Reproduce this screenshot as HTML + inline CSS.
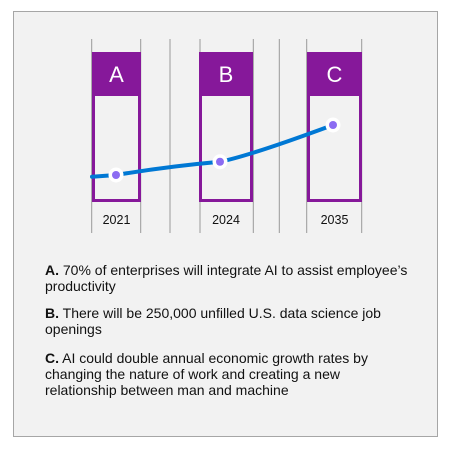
<!DOCTYPE html>
<html><head><meta charset="utf-8"><style>
body{margin:0;width:450px;height:450px;background:#fff;overflow:hidden;font-family:"Liberation Sans",sans-serif}
#panel{position:absolute;left:13px;top:11px;width:423px;height:424px;background:#f2f2f2;border:1px solid #a6a6a6}
.note{position:absolute;left:45px;width:390px;font-size:14px;line-height:16px;color:#111;white-space:nowrap}
</style></head><body>
<div id="panel"></div>
<svg id="chart" width="450" height="450" style="position:absolute;left:0;top:0"></svg>
<div class="note" style="top:262px"><b>A.</b> 70% of enterprises will integrate AI to assist employee’s<br>productivity</div>
<div class="note" style="top:305px"><b>B.</b> There will be 250,000 unfilled U.S. data science job<br>openings</div>
<div class="note" style="top:350px"><b>C.</b> AI could double annual economic growth rates by<br>changing the nature of work and creating a new<br>relationship between man and machine</div>
<script>
const labels=['A','B','C'];
const years=['2021','2024','2035'];
const values=[1.0,1.9,4.4];
const svg=document.getElementById('chart');
const NS='http://www.w3.org/2000/svg';
function mk(t,a){const e=document.createElementNS(NS,t);for(const k in a)e.setAttribute(k,a[k]);svg.appendChild(e);return e;}
const boxX=[92,199,307],boxW=[49,54,55];
const xs=i=>boxX[i]+boxW[i]/2;
const y=v=>175+(v-1.0)*(125-175)/(4.4-1.0);
[91.7,140.7,170,200,253.3,279.3,306.7,361.7].forEach(x=>{
 const l=mk('line',{x1:x,x2:x,y1:39,y2:233,stroke:'#999','stroke-width':1});
 
 
});
labels.forEach((lb,i)=>{
 const r=mk('rect',{x:boxX[i]+1.5,y:53.5,width:boxW[i]-3,height:147,fill:'#f2f2f2',stroke:'#86189a','stroke-width':3});
 
 
 const h=mk('rect',{x:boxX[i],y:52,width:boxW[i],height:44,fill:'#86189a'});
 
 
 const t=mk('text',{x:xs(i),y:82,'text-anchor':'middle',fill:'#fff','font-size':22,'font-family':'Liberation Sans, sans-serif'});
 t.textContent=lb;
 
 
 const yt=mk('text',{x:xs(i),y:224,'text-anchor':'middle',fill:'#111','font-size':12.5,'font-family':'Liberation Sans, sans-serif'});
 yt.textContent=years[i];
 
 
});
const px=[116,220,333];
const pts=values.map((v,i)=>[px[i],y(v)]);
const d=`M92,${pts[0][1]+1.7} L${pts[0][0]},${pts[0][1]} Q168,${(pts[0][1]+pts[1][1])/2-2} ${pts[1][0]},${pts[1][1]} Q250,${pts[1][1]-6} ${pts[2][0]},${pts[2][1]}`;
const p=mk('path',{d,fill:'none',stroke:'#0078d4','stroke-width':4,'stroke-linecap':'round'});


pts.forEach(([x,yy],i)=>{
 const c=mk('circle',{cx:x,cy:yy,r:7.5,fill:'#fff'});
 
 
 const c2=mk('circle',{cx:x,cy:yy,r:4,fill:'#8c6cf2'});
 
 
});
</script>
</body></html>
